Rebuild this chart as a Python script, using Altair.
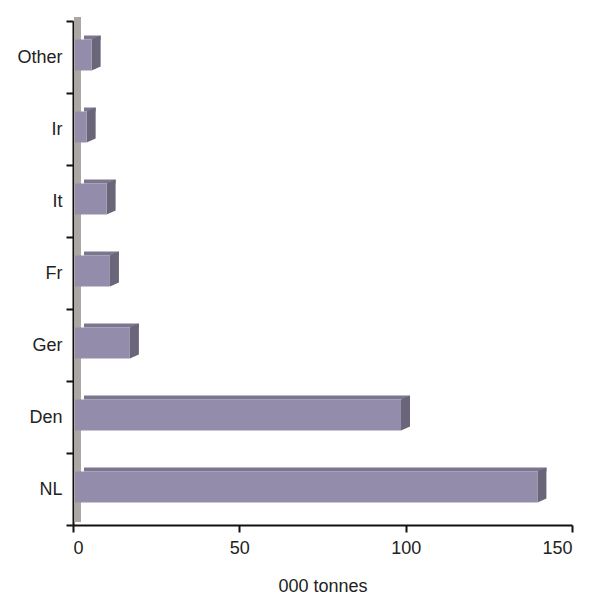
import altair as alt
import pandas as pd

categories = ["Other", "Ir", "It", "Fr", "Ger", "Den", "NL"]
values = [5, 3.5, 9.5, 10.5, 16.5, 98, 139]
x_ticks = [0, 50, 100, 150]

df = pd.DataFrame({"country": categories, "tonnes": values})

W, H = 499, 504
FRONT = "#938CAA"
TOP = "#7D768F"
SIDE = "#6B6579"
WALL = "#ADA7A3"
FONT = "Liberation Sans"

x_scale = alt.Scale(domain=[0, 150], nice=False, zero=True)
y_scale = alt.Scale(domain=categories, paddingInner=0, paddingOuter=0)

x_axis = alt.Axis(values=x_ticks, title="000 tonnes", grid=False,
                  labelFontSize=18, labelFont=FONT, labelColor="#222",
                  titleFontSize=18, titleFont=FONT, titleColor="#222",
                  titleFontWeight="normal", titlePadding=20,
                  tickColor="#111", tickSize=7, tickWidth=2,
                  domainColor="#111", domainWidth=2, labelPadding=7)
y_axis = alt.Axis(title=None, tickBand="extent", grid=False,
                  labelFontSize=18, labelFont=FONT, labelColor="#222",
                  tickColor="#111", tickSize=7, tickWidth=2,
                  domainColor="#111", domainWidth=2, labelPadding=4)

base = alt.Chart(df)

wall = alt.Chart(pd.DataFrame({"z": [0]})).mark_rect(
    color=WALL, xOffset=1, x2Offset=8
).encode(
    x=alt.X("z:Q", scale=x_scale, axis=x_axis),
    x2=alt.X2("z:Q"),
    y=alt.value(-4),
    y2=alt.value(H - 3),
)

top = base.mark_bar(size=4, color=TOP, yOffset=-19.5, xOffset=11, x2Offset=3).encode(
    x=alt.X("tonnes:Q", scale=x_scale, axis=x_axis),
    y=alt.Y("country:N", scale=y_scale, axis=y_axis, sort=categories),
)

side = base.mark_point(
    shape="M0,-0.775 L0.45,-0.975 L0.45,0.575 L0,0.775 Z",
    size=1600, filled=True, color=SIDE, opacity=1, strokeWidth=0,
    xOffset=2, yOffset=-2,
).encode(
    x=alt.X("tonnes:Q", scale=x_scale, axis=x_axis),
    y=alt.Y("country:N", scale=y_scale, axis=y_axis, sort=categories),
)

front = base.mark_bar(size=31, color=FRONT, xOffset=2, x2Offset=2, yOffset=-2).encode(
    x=alt.X("tonnes:Q", scale=x_scale, axis=x_axis),
    y=alt.Y("country:N", scale=y_scale, axis=y_axis, sort=categories),
)

chart = alt.layer(wall, top, side, front).properties(
    width=W, height=H,
    padding={"left": 73, "top": 21, "right": 33, "bottom": 74},
    autosize=alt.AutoSizeParams(type="none"),
    background="white",
).configure_view(stroke=None)

chart.save("out.html", embed_options={"renderer": "svg", "actions": False})
